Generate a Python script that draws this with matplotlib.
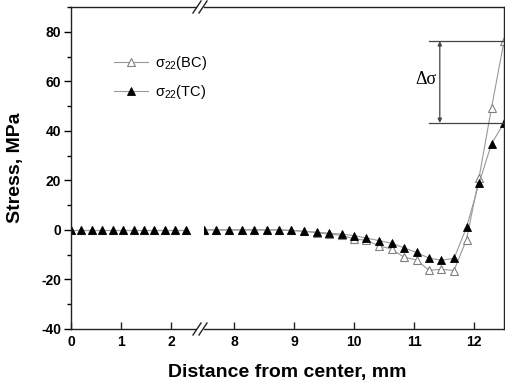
import matplotlib
matplotlib.use("Agg")
import matplotlib.pyplot as plt
from matplotlib.ticker import MultipleLocator

plt.rcParams['font.family'] = ['Liberation Sans', 'DejaVu Sans']
plt.rcParams['mathtext.fontset'] = 'custom'
plt.rcParams['mathtext.rm'] = 'Liberation Sans'
plt.rcParams['mathtext.it'] = 'Liberation Sans'
plt.rcParams['axes.unicode_minus'] = False

# ---- data ----
x_left = [0.0, 0.208, 0.417, 0.625, 0.833, 1.042, 1.25, 1.458, 1.667, 1.875, 2.083, 2.292]
tc_left = [0, 0, 0, 0, 0, 0, 0, 0, 0, 0, 0, 0]
bc_left = [0, 0, 0, 0, 0, 0, 0, 0, 0, 0, 0, 0]

x_right = [7.5, 7.708, 7.917, 8.125, 8.333, 8.542, 8.75, 8.958, 9.167, 9.375,
           9.583, 9.792, 10.0, 10.208, 10.417, 10.625, 10.833, 11.042, 11.25,
           11.458, 11.667, 11.875, 12.083, 12.292, 12.5]
tc_right = [0, 0, 0, 0, 0, 0, 0, -0.2, -0.5, -0.9,
            -1.3, -1.7, -2.3, -3.3, -4.3, -5.4, -7.2, -9.1, -11.4,
            -12.2, -11.5, 1.0, 18.8, 34.8, 43.2]
bc_right = [0, 0, 0, 0, 0, 0, 0, -0.2, -0.6, -1.1,
            -1.7, -2.2, -3.6, -4.2, -6.4, -7.7, -11.0, -12.1, -16.3,
            -15.9, -16.4, -3.9, 21.0, 49.3, 76.2]

left_ticks = [0, 1, 2]
right_ticks = [8, 9, 10, 11, 12]
y_ticks = [-40, -20, 0, 20, 40, 60, 80]
delta_top = 76.2
delta_bot = 43.2

W, H = 505, 387
fig = plt.figure(figsize=(W / 100, H / 100), dpi=100)

L, R, T, B = 71, 504, 7, 329
gap_l, gap_r = 196, 204
ax1 = fig.add_axes([L / W, 1 - B / H, (gap_l - L) / W, (B - T) / H])
ax2 = fig.add_axes([gap_r / W, 1 - B / H, (R - gap_r) / W, (B - T) / H], sharey=ax1)

line_col = '#999999'
bc_kw = dict(color=line_col, lw=0.8, marker='^', ms=5.5, mfc='white',
             mec='#808080', mew=0.8, label=r'$\sigma_{22}$(BC)')
tc_kw = dict(color=line_col, lw=0.8, marker='^', ms=5.5, mfc='black',
             mec='black', mew=0.6, label=r'$\sigma_{22}$(TC)')

ax1.plot(x_left, bc_left, **bc_kw)
ax1.plot(x_left, tc_left, **tc_kw)
ax2.plot(x_right, bc_right, **bc_kw)
ax2.plot(x_right, tc_right, **tc_kw)

ax1.set_xlim(0, 2.5)
ax2.set_xlim(7.5, 12.5)
ax1.set_ylim(-40, 90)

spine_col = '#222222'
for ax in (ax1, ax2):
    for s in ax.spines.values():
        s.set_color(spine_col)
        s.set_linewidth(1.0)
ax1.spines['right'].set_visible(False)
ax2.spines['left'].set_visible(False)

ax1.set_xticks(left_ticks)
ax2.set_xticks(right_ticks)
ax1.set_yticks(y_ticks)
ax1.yaxis.set_minor_locator(MultipleLocator(10))
for ax in (ax1, ax2):
    ax.tick_params(axis='x', direction='in', length=5, width=1, colors=spine_col,
                   labelcolor='black', labelsize=10, pad=4)
    for lab in ax.get_xticklabels():
        lab.set_fontweight('bold')
ax1.tick_params(axis='y', which='major', direction='out', length=5, width=1,
                labelsize=10, pad=2)
ax1.tick_params(axis='y', which='minor', direction='out', length=3, width=1)
for lab in ax1.get_yticklabels():
    lab.set_fontweight('bold')
ax2.tick_params(axis='y', which='both', left=False, labelleft=False)

# break marks
for yy in (0, 1):
    for dx in (-3, 3):
        xc = (200 + dx) / W
        yc = 1 - B / H if yy == 0 else 1 - T / H
        fig.add_artist(plt.Line2D([xc - 4 / W, xc + 4 / W], [yc - 6 / H, yc + 6 / H],
                                  color=spine_col, lw=1.0))

fig.text(287 / W, 1 - 373 / H, 'Distance from center, mm',
         ha='center', va='center', fontsize=14, fontweight='bold')
fig.text(16 / W, 1 - 168 / H, 'Stress, MPa', ha='center', va='center',
         rotation=90, fontsize=14, fontweight='bold')

# delta sigma annotation
ax2.plot([11.25, 12.5], [delta_top, delta_top], color='#444444', lw=0.9, clip_on=False)
ax2.plot([11.25, 12.5], [delta_bot, delta_bot], color='#444444', lw=0.9, clip_on=False)
ax2.annotate('', xy=(11.43, delta_top), xytext=(11.43, delta_bot),
             arrowprops=dict(arrowstyle='<|-|>', color='#444444', lw=0.9,
                             mutation_scale=6, shrinkA=0, shrinkB=0))
ax2.text(11.38, (delta_top + delta_bot) / 2 + 1, 'Δσ', ha='right', va='center',
         fontsize=13, family='Liberation Serif')

handles, labels = ax2.get_legend_handles_labels()
fig.legend(handles, labels, loc='upper left', bbox_to_anchor=(101 / W, 1 - 41 / H),
           frameon=False, fontsize=10.5, handlelength=2.3, handletextpad=0.5,
           labelspacing=0.75)

fig.savefig('out.png', dpi=100)
